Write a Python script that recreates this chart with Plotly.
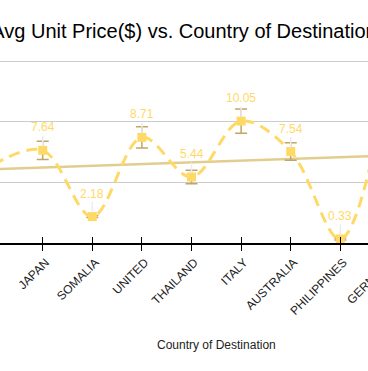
import plotly.graph_objects as go

# ---- data ----
countries = ["CHINA", "JAPAN", "SOMALIA", "UNITED", "THAILAND", "ITALY",
             "AUSTRALIA", "PHILIPPINES", "GERMANY"]
avg_price = [6.45, 7.64, 2.18, 8.71, 5.44, 10.05, 7.54, 0.33, 14.5]
price_err = [0.7, 0.75, 0.08, 0.88, 0.55, 1.0, 0.72, 0.08, 0.8]
trend_x = ["CHINA", "GERMANY"]
trend_y = [6.08, 7.21]

YELLOW = "#FFD966"
TAN = "#BFA669"
FONT = "Liberation Sans, Arial, sans-serif"

fig = go.Figure()

# linear trend line
fig.add_trace(go.Scatter(
    x=trend_x, y=trend_y, mode="lines",
    line=dict(color="rgba(222,196,122,0.85)", width=2.5),
    hoverinfo="skip", showlegend=False,
))

# main series
fig.add_trace(go.Scatter(
    x=countries, y=avg_price, mode="lines+markers",
    line=dict(color=YELLOW, width=3, dash="11px,7px", shape="spline", smoothing=1),
    marker=dict(symbol="square", size=9, color=YELLOW),
    error_y=dict(type="data", array=price_err, visible=True,
                 color=TAN, thickness=1.5, width=6),
    showlegend=False,
))

# invisible helper trace for the inside half of the ticks
fig.add_trace(go.Scatter(
    x=countries, y=avg_price, mode="markers", xaxis="x2",
    marker=dict(opacity=0), hoverinfo="skip", showlegend=False,
))

annotations = []
for c, v in zip(countries, avg_price):
    annotations.append(dict(
        x=c, y=v, xref="x", yref="y", text=f"{v:.2f}",
        showarrow=True, arrowhead=0, arrowwidth=1.5, arrowcolor="#ececec",
        ax=0, ay=-23, standoff=4,
        font=dict(size=12, color=YELLOW, family=FONT),
    ))

annotations.append(dict(
    text="Country of Destination", xref="paper", yref="paper",
    x=216 / 368, y=-(345 - 243) / 188, xanchor="center", yanchor="middle",
    showarrow=False,
    font=dict(size=12, color="#222222", family=FONT),
))

xrange = [0.139, 7.558]

# tick label of the last category, whose tick lies just past the visible range
last_idx = len(countries) - 1
annotations.append(dict(
    text=countries[last_idx], xref="paper", yref="paper",
    x=(last_idx - xrange[0]) / (xrange[1] - xrange[0]), y=0,
    xanchor="center", yanchor="middle", xshift=-19, yshift=-37,
    textangle=-45, showarrow=False,
    font=dict(size=12, color="#222222", family=FONT),
))

fig.update_layout(
    width=368, height=371,
    margin=dict(l=0, r=0, t=55, b=128, pad=0),
    paper_bgcolor="white", plot_bgcolor="white",
    font=dict(family=FONT, color="#222222"),
    title=dict(text="Avg Unit Price($) vs. Country of Destination",
               x=0.5, xref="container", xanchor="center",
               y=1 - 31 / 371, yref="container", yanchor="middle",
               font=dict(size=20, color="black")),
    xaxis=dict(type="category", categoryorder="array", categoryarray=countries,
               range=xrange, showgrid=False, zeroline=False,
               showline=True, linecolor="black", linewidth=1.5,
               ticks="outside", ticklen=6, tickcolor="black", tickwidth=1,
               tickangle=-45, ticklabelshift=3,
               tickfont=dict(size=12, color="#222222")),
    xaxis2=dict(type="category", categoryorder="array", categoryarray=countries,
                range=xrange, overlaying="x", anchor="y", side="bottom",
                showgrid=False, zeroline=False, showline=False,
                ticks="inside", ticklen=6, tickcolor="black", tickwidth=1,
                showticklabels=False),
    yaxis=dict(range=[0, 15.5], dtick=5, showgrid=True, gridcolor="#cccccc",
               gridwidth=1, zeroline=False, showline=False, ticks="",
               showticklabels=False),
    annotations=annotations,
)

fig.write_html("out.html", config={"displayModeBar": False},
               post_script="document.body.style.margin='0';document.body.style.overflow='hidden';")
